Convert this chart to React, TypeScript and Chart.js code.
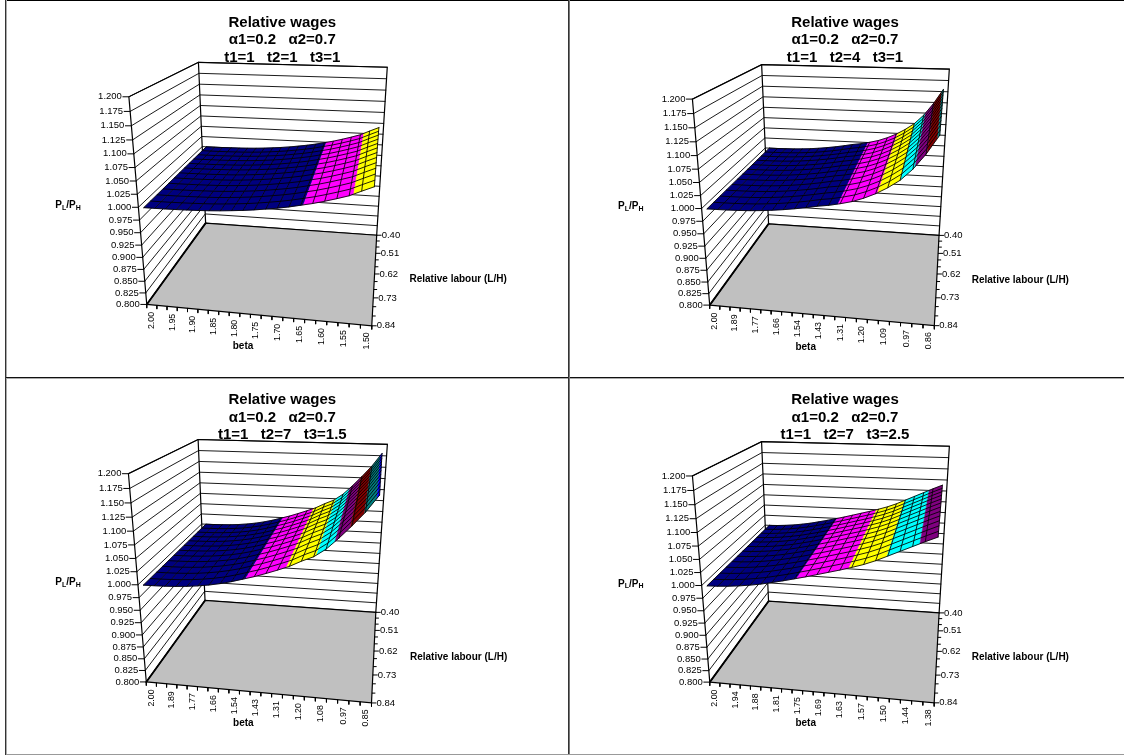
import React, { useEffect, useRef } from "react";
import { Chart, registerables } from "chart.js";

Chart.register(...registerables);

// ---------- data ----------
const zTickLabels = ["0.800","0.825","0.850","0.875","0.900","0.925","0.950","0.975","1.000","1.025","1.050","1.075","1.100","1.125","1.150","1.175","1.200"];
const labourLabels = ["0.40","0.51","0.62","0.73","0.84"];
const labourRowCount = 13;

const betaLabelsA = ["2.00","1.95","1.90","1.85","1.80","1.75","1.70","1.65","1.60","1.55","1.50"];
const betaLabelsB = ["2.00","1.89","1.77","1.66","1.54","1.43","1.31","1.20","1.09","0.97","0.86"];
const betaLabelsC = ["2.00","1.89","1.77","1.66","1.54","1.43","1.31","1.20","1.08","0.97","0.85"];
const betaLabelsD = ["2.00","1.94","1.88","1.81","1.75","1.69","1.63","1.57","1.50","1.44","1.38"];

const wagesA = [1.0000,1.0000,1.0002,1.0005,1.0010,1.0016,1.0025,1.0038,1.0055,1.0074,1.0098,1.0127,1.0158,1.0195,1.0240,1.0285,1.0340,1.0400,1.0465,1.0560,1.0650];
const wagesB = [1.0000,1.0001,1.0004,1.0010,1.0020,1.0035,1.0055,1.0080,1.0110,1.0145,1.0185,1.0215,1.0258,1.0310,1.0385,1.0480,1.0600,1.0745,1.0950,1.1220,1.1550];
const wagesC = [1.0000,1.0002,1.0007,1.0017,1.0032,1.0055,1.0085,1.0125,1.0175,1.0235,1.0295,1.0365,1.0440,1.0520,1.0625,1.0715,1.0860,1.1060,1.1280,1.1515,1.1800];
const wagesD = [1.0000,1.0006,1.0020,1.0040,1.0068,1.0102,1.0145,1.0190,1.0240,1.0290,1.0345,1.0400,1.0455,1.0515,1.0580,1.0660,1.0755,1.0850,1.0945,1.1040,1.1130];

const bandColors = ["#000080","#FF00FF","#FFFF00","#00FFFF","#800080","#800000","#008080","#0000FF"];

const titleA = ["Relative wages","α1=0.2   α2=0.7","t1=1   t2=1   t3=1"];
const titleB = ["Relative wages","α1=0.2   α2=0.7","t1=1   t2=4   t3=1"];
const titleC = ["Relative wages","α1=0.2   α2=0.7","t1=1   t2=7   t3=1.5"];
const titleD = ["Relative wages","α1=0.2   α2=0.7","t1=1   t2=7   t3=2.5"];

// ---------- layout: box corners on the page, per panel ----------
type Pt = [number, number];
interface Panel {
  rect: [number, number, number, number];
  fl: Pt; flTop: Pt; bl: Pt; blTop: Pt; br: Pt; brTop: Pt; fr: Pt; flMidY: number;
  title: string[]; titleX: number; titleY: number[];
  betaLabels: string[]; wages: number[];
  betaPos: Pt; labourPos: Pt; ratioPos: Pt;
}

const panels: Panel[] = [
  { rect: [0, 1, 568, 376], fl: [146.7,304.3], flTop: [129,96.7], bl: [205.7,223.3], blTop: [198.3,62.3], br: [376.7,235], brTop: [387.3,67.3], fr: [371.7,326], flMidY: 207.3,
    title: titleA, titleX: 282.3, titleY: [22.8,39.8,58], betaLabels: betaLabelsA, wages: wagesA, betaPos: [243,346.7], labourPos: [409.5,279.5], ratioPos: [55.3,205.7] },
  { rect: [569, 1, 555, 376], fl: [710,305], flTop: [692.3,98.7], bl: [768.3,224], blTop: [761.7,64.7], br: [939.3,235], brTop: [949.3,69.3], fr: [934,326], flMidY: 208.7,
    title: titleB, titleX: 845, titleY: [22.8,39.8,58], betaLabels: betaLabelsB, wages: wagesB, betaPos: [805.7,347], labourPos: [971.7,280.7], ratioPos: [618,206.7] },
  { rect: [0, 379, 568, 375], fl: [146.3,681.7], flTop: [128.3,474], bl: [205,600.7], blTop: [198.3,439.3], br: [375.7,612.3], brTop: [387.3,444.3], fr: [371.7,703], flMidY: 584.7,
    title: titleC, titleX: 282.3, titleY: [399.5,417.8,434.5], betaLabels: betaLabelsC, wages: wagesC, betaPos: [243.3,723.7], labourPos: [410,657.3], ratioPos: [55.3,582.7] },
  { rect: [569, 379, 555, 375], fl: [710,682], flTop: [692.3,475.7], bl: [768.3,601.3], blTop: [761.7,441.7], br: [939.3,612.7], brTop: [949.3,446.3], fr: [934,703], flMidY: 585.7,
    title: titleD, titleX: 845, titleY: [399.5,417.8,434.5], betaLabels: betaLabelsD, wages: wagesD, betaPos: [805.7,723.7], labourPos: [971.7,657.3], ratioPos: [618,584] },
];

const FONT = '"Liberation Sans", Arial, sans-serif';

// ---------- perspective camera fitted to the box corners ----------
function solve(A: number[][], b: number[]): number[] {
  const n = b.length;
  const M = A.map((r, i) => [...r, b[i]]);
  for (let c = 0; c < n; c++) {
    let p = c;
    for (let r = c + 1; r < n; r++) if (Math.abs(M[r][c]) > Math.abs(M[p][c])) p = r;
    [M[c], M[p]] = [M[p], M[c]];
    for (let r = 0; r < n; r++) {
      if (r === c) continue;
      const f = M[r][c] / M[c][c];
      for (let k = c; k <= n; k++) M[r][k] -= f * M[c][k];
    }
  }
  return M.map((r, i) => r[n] / r[i]);
}

function makeCamera(p: Panel) {
  const corr: [number, number, number, number, number][] = [
    [0, 1, 0, p.fl[0], p.fl[1]],
    [0, 0, 0, p.bl[0], p.bl[1]],
    [1, 0, 0, p.br[0], p.br[1]],
    [1, 1, 0, p.fr[0], p.fr[1]],
    [0, 1, 1, p.flTop[0], p.flTop[1]],
    [0, 0, 1, p.blTop[0], p.blTop[1]],
    [1, 0, 1, p.brTop[0], p.brTop[1]],
    [0, 1, 0.5, p.fl[0] + (p.flTop[0] - p.fl[0]) * ((p.fl[1] - p.flMidY) / (p.fl[1] - p.flTop[1])), p.flMidY],
  ];
  const rows: number[][] = [];
  const rhs: number[] = [];
  const S = 100;
  for (const [u, v, t, X0, Y0] of corr) {
    const X = X0 / S, Y = Y0 / S;
    rows.push([1, u, v, t, 0, 0, 0, 0, -X * u, -X * v, -X * t]); rhs.push(X);
    rows.push([0, 0, 0, 0, 1, u, v, t, -Y * u, -Y * v, -Y * t]); rhs.push(Y);
  }
  const n = 11;
  const AtA = Array.from({ length: n }, () => new Array(n).fill(0));
  const Atb = new Array(n).fill(0);
  rows.forEach((r, k) => {
    for (let i = 0; i < n; i++) {
      Atb[i] += r[i] * rhs[k];
      for (let j = 0; j < n; j++) AtA[i][j] += r[i] * r[j];
    }
  });
  const c = solve(AtA, Atb);
  return (u: number, v: number, t: number) => {
    const w = 1 + c[8] * u + c[9] * v + c[10] * t;
    return {
      x: (S * (c[0] + c[1] * u + c[2] * v + c[3] * t)) / w,
      y: (S * (c[4] + c[5] * u + c[6] * v + c[7] * t)) / w,
    };
  };
}

// ---------- datasets ----------
function line(points: { x: number; y: number }[], color = "#000", width = 1) {
  return { data: points, showLine: true, fill: false, borderColor: color, borderWidth: width, pointRadius: 0, tension: 0, borderCapStyle: "round" };
}
function shape(points: { x: number; y: number }[], color: string, edge = color, width = 0.4) {
  return { data: [...points, points[0]], showLine: true, fill: "shape", backgroundColor: color, borderColor: edge, borderWidth: width, pointRadius: 0, tension: 0 };
}

function buildDatasets(p: Panel) {
  const cam = makeCamera(p);
  const zMin = parseFloat(zTickLabels[0]);
  const zMax = parseFloat(zTickLabels[zTickLabels.length - 1]);
  const T = (z: number) => (z - zMin) / (zMax - zMin);
  const cols = p.wages.length;
  const U = (i: number) => (i + 0.5) / cols;
  const paint: any[] = [];

  // walls
  zTickLabels.forEach((lab) => {
    const t = T(parseFloat(lab));
    paint.push(line([cam(0, 1, t), cam(0, 0, t), cam(1, 0, t)], "#000", 0.9));
    const a = cam(0, 1, t);
    paint.push(line([a, { x: a.x - 6, y: a.y }], "#000", 1));
  });
  paint.push(line([cam(0, 1, 0), cam(0, 1, 1), cam(0, 0, 1), cam(1, 0, 1), cam(1, 0, 0)], "#000", 1.2));
  paint.push(line([cam(0, 0, 0), cam(0, 0, 1)], "#000", 1.2));

  // floor
  paint.push(shape([cam(0, 1, 0), cam(0, 0, 0), cam(1, 0, 0), cam(1, 1, 0)], "#C0C0C0", "#000", 1.2));
  paint.push(line([cam(0, 1, 0), cam(0, 0, 0)], "#000", 1.8));

  // beta ticks
  for (let i = 0; i <= cols; i++) {
    const a = cam(i / cols, 1, 0);
    paint.push(line([a, { x: a.x, y: a.y + 3.5 }], "#000", 1));
  }
  // labour ticks
  for (let j = 0; j < labourRowCount; j++) {
    const a = cam(1, j / (labourRowCount - 1), 0);
    paint.push(line([a, { x: a.x + (j % 3 === 0 ? 4.5 : 3), y: a.y }], "#000", 1));
  }

  // surface bands
  for (let i = 0; i < cols - 1; i++) {
    const z1 = p.wages[i], z2 = p.wages[i + 1];
    const cuts = [0];
    for (let b = 1; b < bandColors.length; b++) {
      const lvl = 1 + b * 0.025;
      if (lvl > z1 && lvl < z2) cuts.push((lvl - z1) / (z2 - z1));
    }
    cuts.push(1);
    for (let c = 0; c < cuts.length - 1; c++) {
      const f1 = cuts[c], f2 = cuts[c + 1];
      const zm = z1 + ((f1 + f2) / 2) * (z2 - z1);
      const band = Math.min(bandColors.length - 1, Math.max(0, Math.floor((zm - 1) / 0.025)));
      const u1 = U(i) + f1 * (U(i + 1) - U(i));
      const u2 = U(i) + f2 * (U(i + 1) - U(i));
      const t1 = T(z1 + f1 * (z2 - z1));
      const t2 = T(z1 + f2 * (z2 - z1));
      paint.push(shape([cam(u1, 0, t1), cam(u2, 0, t2), cam(u2, 1, t2), cam(u1, 1, t1)], bandColors[band]));
    }
  }
  // surface mesh
  for (let i = 0; i < cols; i++) {
    const t = T(p.wages[i]);
    paint.push(line([cam(U(i), 0, t), cam(U(i), 1, t)], "#000", 0.85));
  }
  for (let j = 0; j < labourRowCount; j++) {
    const v = j / (labourRowCount - 1);
    paint.push(line(p.wages.map((z, i) => cam(U(i), v, T(z))), "#000", 0.85));
  }
  return { datasets: paint.reverse(), cam, T };
}

// ---------- text plugin ----------
function textPlugin(p: Panel, cam: (u: number, v: number, t: number) => { x: number; y: number }, T: (z: number) => number) {
  return {
    id: "panelText",
    afterDraw(chart: any) {
      const { ctx, scales } = chart;
      const px = (x: number) => scales.x.getPixelForValue(x);
      const py = (y: number) => scales.y.getPixelForValue(y);
      ctx.save();
      ctx.fillStyle = "#000";
      ctx.textBaseline = "middle";
      // title
      ctx.font = `bold 15px ${FONT}`;
      ctx.textAlign = "center";
      p.title.forEach((s, i) => ctx.fillText(s, px(p.titleX), py(p.titleY[i])));
      // z tick labels
      ctx.font = `9.5px ${FONT}`;
      ctx.textAlign = "right";
      zTickLabels.forEach((lab) => {
        const a = cam(0, 1, T(parseFloat(lab)));
        ctx.fillText(lab, px(a.x - 7), py(a.y));
      });
      // labour labels
      ctx.textAlign = "left";
      labourLabels.forEach((lab, k) => {
        const a = cam(1, k / (labourLabels.length - 1), 0);
        ctx.fillText(lab, px(a.x + 5), py(a.y));
      });
      // beta labels
      const cols = p.wages.length;
      ctx.font = `8.8px ${FONT}`;
      p.betaLabels.forEach((lab, k) => {
        const a = cam((k * 2 + 0.5) / cols, 1, 0);
        ctx.save();
        ctx.translate(px(a.x), py(a.y + 7));
        ctx.rotate(-Math.PI / 2);
        ctx.textAlign = "right";
        ctx.fillText(lab, 0, 0);
        ctx.restore();
      });
      // axis titles
      ctx.font = `bold 10px ${FONT}`;
      ctx.textAlign = "center";
      ctx.fillText("beta", px(p.betaPos[0]), py(p.betaPos[1]));
      ctx.textAlign = "left";
      ctx.fillText("Relative labour (L/H)", px(p.labourPos[0]), py(p.labourPos[1]));
      // P_L/P_H with subscripts
      let x = px(p.ratioPos[0]);
      const y = py(p.ratioPos[1]);
      [["P", false], ["L", true], ["/P", false], ["H", true]].forEach(([s, sub]: any) => {
        ctx.font = sub ? `bold 7px ${FONT}` : `bold 10px ${FONT}`;
        ctx.fillText(s, x, sub ? y + 2 : y);
        x += ctx.measureText(s).width;
      });
      ctx.restore();
    },
  };
}

function PanelChart({ panel }: { panel: Panel }) {
  const ref = useRef<HTMLCanvasElement>(null);
  const [x0, y0, w, h] = panel.rect;
  useEffect(() => {
    const { datasets, cam, T } = buildDatasets(panel);
    const chart = new Chart(ref.current as HTMLCanvasElement, {
      type: "scatter",
      data: { datasets: datasets as any },
      options: {
        animation: false,
        responsive: false,
        devicePixelRatio: 1,
        layout: { padding: 0 },
        events: [],
        scales: {
          x: { type: "linear", display: false, min: x0, max: x0 + w },
          y: { type: "linear", display: false, min: y0, max: y0 + h, reverse: true },
        },
        plugins: { legend: { display: false }, tooltip: { enabled: false }, title: { display: false } },
      } as any,
      plugins: [textPlugin(panel, cam, T) as any],
    });
    return () => chart.destroy();
  }, []);
  return <canvas ref={ref} width={w} height={h} style={{ position: "absolute", left: x0, top: y0, width: w, height: h, display: "block" }} />;
}

const rule = (left: number, top: number, width: number, height: number, background: string) => (
  <div style={{ position: "absolute", left, top, width, height, background }} />
);

export default function App() {
  return (
    <div style={{ position: "absolute", left: 0, top: 0, width: 1124, height: 755, background: "#fff", overflow: "hidden" }}>
      {panels.map((p, i) => <PanelChart key={i} panel={p} />)}
      {rule(6, 0, 1118, 1, "#000")}
      {rule(5, 0, 1, 755, "#333")}
      {rule(6, 0, 1, 755, "#aaa")}
      {rule(6, 377, 1118, 1, "#111")}
      {rule(6, 378, 1118, 1, "#aaa")}
      {rule(568, 0, 1, 755, "#333")}
      {rule(569, 0, 1, 755, "#777")}
      {rule(6, 754, 1118, 1, "#999")}
    </div>
  );
}
